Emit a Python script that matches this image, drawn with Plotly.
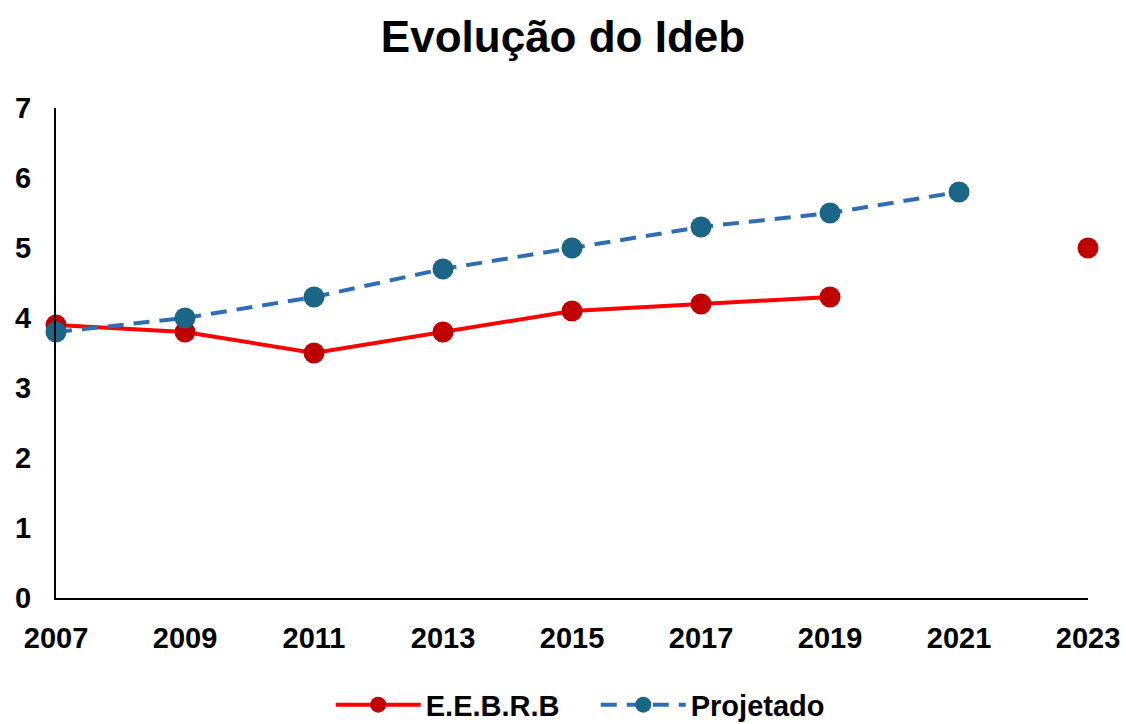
import plotly.graph_objects as go

years = [2007, 2009, 2011, 2013, 2015, 2017, 2019, 2021, 2023]
eebrb = [3.9, 3.8, 3.5, 3.8, 4.1, 4.2, 4.3, None, 5.0]
projetado = [3.8, 4.0, 4.3, 4.7, 5.0, 5.3, 5.5, 5.8, None]
title_text = "Evolução do Ideb"

FONT = "Liberation Sans, Arial, sans-serif"

fig = go.Figure()
fig.add_trace(go.Scatter(
    x=years, y=eebrb, name="E.E.B.R.B", mode="lines+markers",
    line=dict(color="#FF0000", width=4),
    marker=dict(color="#C00000", size=21),
    connectgaps=False, cliponaxis=False,
))
fig.add_trace(go.Scatter(
    x=years, y=projetado, name="Projetado", mode="lines+markers",
    line=dict(color="#2E6DB4", width=4, dash="16px,10px"),
    marker=dict(color="#1B6587", size=21),
    connectgaps=False, cliponaxis=False,
))

fig.update_layout(
    width=1126, height=724,
    margin=dict(l=56, r=38, t=108, b=126, autoexpand=False),
    paper_bgcolor="white", plot_bgcolor="white",
    title=dict(text="<b>%s</b>" % title_text, x=0.5, xanchor="center",
               y=1 - 37 / 724, yanchor="middle",
               font=dict(family=FONT, size=44, color="black")),
    font=dict(family=FONT, color="black"),
    showlegend=True,
    legend=dict(orientation="h", x=0.523, xanchor="center", y=-0.218, yanchor="middle",
                font=dict(family=FONT, size=29, color="black", weight="bold"),
                itemwidth=85, entrywidth=165, traceorder="normal"),
    xaxis=dict(range=[2007, 2023], tickvals=years, ticktext=[str(y) for y in years],
               showgrid=False, zeroline=False, showline=True, linecolor="black", linewidth=2,
               ticks="", ticklabelstandoff=13, automargin=False,
               tickfont=dict(family=FONT, size=29, color="black", weight="bold")),
    yaxis=dict(range=[0, 7], dtick=1, tick0=0,
               showgrid=False, zeroline=False, showline=True, linecolor="black", linewidth=2,
               ticks="", ticklabelstandoff=17, automargin=False,
               tickfont=dict(family=FONT, size=29, color="black", weight="bold")),
)

fig.write_html("out.html", config={"displayModeBar": False},
               post_script="document.body.style.margin='0';document.body.style.padding='0';")
